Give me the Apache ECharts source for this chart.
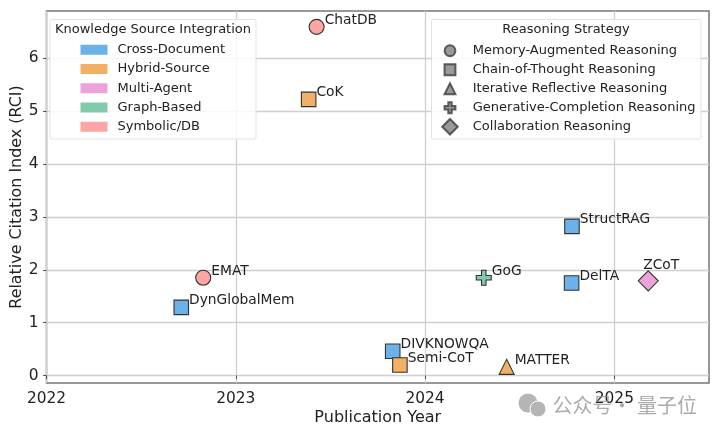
<!DOCTYPE html>
<html>

<head>
  <meta charset="utf-8">
  <title>Publication Year vs RCI</title>
  <script src="https://cdn.jsdelivr.net/npm/echarts@6/dist/echarts.min.js"></script>
  <style>
    html, body { margin: 0; padding: 0; background: #fff; }
    #chart { width: 720px; height: 434px; }
  </style>
</head>

<body>
  <div id="chart"></div>
  <script>
    var methods = ['ChatDB', 'CoK', 'EMAT', 'DynGlobalMem', 'DIVKNOWQA', 'Semi-CoT', 'MATTER', 'GoG', 'DelTA', 'StructRAG', 'ZCoT'];
    var years = [2023.427, 2023.385, 2022.828, 2022.712, 2023.829, 2023.867, 2024.431, 2024.31, 2024.774, 2024.776, 2025.179];
    var rci = [6.59, 5.22, 1.85, 1.29, 0.46, 0.2, 0.165, 1.85, 1.75, 2.82, 1.79];
    var methodSource = ['Symbolic/DB', 'Hybrid-Source', 'Symbolic/DB', 'Cross-Document', 'Cross-Document', 'Hybrid-Source', 'Hybrid-Source', 'Graph-Based', 'Cross-Document', 'Cross-Document', 'Multi-Agent'];
    var methodStrategy = ['Memory-Augmented Reasoning', 'Chain-of-Thought Reasoning', 'Memory-Augmented Reasoning', 'Chain-of-Thought Reasoning', 'Chain-of-Thought Reasoning', 'Chain-of-Thought Reasoning', 'Iterative Reflective Reasoning', 'Generative-Completion Reasoning', 'Chain-of-Thought Reasoning', 'Chain-of-Thought Reasoning', 'Collaboration Reasoning'];

    var sources = ['Cross-Document', 'Hybrid-Source', 'Multi-Agent', 'Graph-Based', 'Symbolic/DB'];
    var sourceColors = ['#6BB1EA', '#F2B066', '#EDA3DA', '#82C9AE', '#FDA5A3'];
    var strategies = ['Memory-Augmented Reasoning', 'Chain-of-Thought Reasoning', 'Iterative Reflective Reasoning', 'Generative-Completion Reasoning', 'Collaboration Reasoning'];
    var plusPath = 'path://M35 0H65V35H100V65H65V100H35V65H0V35H35Z';
    var strategySymbols = ['circle', 'rect', 'triangle', plusPath, 'diamond'];
    var strategySizes = [15, 14.5, 15, 15, 20];
    // 图例图标：带 100x100 的空边框，这样菱形可以比其他形状大
    var frame = 'M0 0L0 0M100 100L100 100';
    var strategyIcons = [
      'path://' + frame + 'M50 15A35 35 0 1 1 50 85A35 35 0 1 1 50 15Z',
      'path://' + frame + 'M15 15H85V85H15Z',
      'path://' + frame + 'M50 15L85 85H15Z',
      'path://' + frame + 'M39 15H61V39H85V61H61V85H39V61H15V39H39Z',
      'path://' + frame + 'M50 0L100 50L50 100L0 50Z'
    ];

    var xTicks = [2022, 2023, 2024, 2025];
    var yTicks = [0, 1, 2, 3, 4, 5, 6];

    var fontName = 'DejaVu Sans';
    var ink = '#222';

    var series = [];
    // 每个来源一个系列，形状由策略决定
    sources.forEach(function (src, s) {
      var pts = [];
      methods.forEach(function (name, i) {
        if (methodSource[i] !== src) return;
        var k = strategies.indexOf(methodStrategy[i]);
        var above = name === 'ZCoT';
        pts.push({
          name: name,
          value: [years[i], rci[i]],
          symbol: strategySymbols[k],
          symbolSize: strategySizes[k],
          label: above
            ? { position: 'top', distance: -2, offset: [13, 0] }
            : { position: 'right', distance: 0, offset: [0, -6.5] }
        });
      });
      series.push({
        name: src,
        type: 'scatter',
        z: 5,
        data: pts,
        itemStyle: { color: sourceColors[s], borderColor: '#333', borderWidth: 1.1, opacity: 1 },
        label: {
          show: true,
          formatter: '{b}',
          color: ink,
          fontFamily: fontName,
          fontSize: 13.8
        }
      });
    });
    // 形状图例用的空系列
    strategies.forEach(function (st) {
      series.push({
        name: st,
        type: 'scatter',
        data: [],
        itemStyle: { color: '#808080', borderColor: '#3a3a3a', borderWidth: 1 }
      });
    });

    var legendText = { color: ink, fontFamily: fontName, fontSize: 13 };

    var option = {
      backgroundColor: '#fff',
      animation: false,
      grid: { left: 46.5, right: 11, top: 11, bottom: 51, outerBoundsMode: 'none', show: true, borderColor: '#777', borderWidth: 1.5, backgroundColor: 'transparent' },
      xAxis: {
        type: 'value',
        min: 2022,
        max: 2025.5,
        name: 'Publication Year',
        nameLocation: 'middle',
        nameGap: 27,
        nameMoveOverlap: false,
        nameTextStyle: { color: ink, fontFamily: fontName, fontSize: 16 },
        axisLine: { show: false },
        axisTick: { show: true, length: 3.5, lineStyle: { color: '#555' }, customValues: xTicks },
        splitLine: { show: true, lineStyle: { color: '#cfcfcf', width: 1.3 } },
        axisLabel: { color: ink, fontFamily: fontName, fontSize: 15.4, margin: 8, customValues: xTicks, formatter: function (v) { return String(v); } }
      },
      yAxis: {
        type: 'value',
        min: -0.14,
        max: 6.89,
        name: 'Relative Citation Index (RCI)',
        nameLocation: 'middle',
        nameGap: 21.5,
        nameMoveOverlap: false,
        nameTextStyle: { color: ink, fontFamily: fontName, fontSize: 15.9 },
        axisLine: { show: false },
        axisTick: { show: true, length: 3.5, lineStyle: { color: '#555' }, customValues: yTicks },
        splitLine: { show: true, lineStyle: { color: '#cfcfcf', width: 1.3 } },
        axisLabel: { color: ink, fontFamily: fontName, fontSize: 15.4, margin: 8, customValues: yTicks }
      },
      legend: [
        {
          left: 80.5,
          top: 42.5,
          orient: 'vertical',
          selectedMode: false,
          itemWidth: 27,
          itemHeight: 10,
          itemGap: 4.75,
          padding: 0,
          z: 6,
          textStyle: Object.assign({ padding: [0, 0, 0, 5], height: 14.5, lineHeight: 14.5 }, legendText),
          itemStyle: { borderWidth: 0 },
          data: sources.map(function (s) { return { name: s, icon: 'rect' }; })
        },
        {
          left: 441.25,
          top: 42,
          orient: 'vertical',
          selectedMode: false,
          itemWidth: 15.5,
          itemHeight: 15.5,
          itemGap: 1.5,
          padding: 0,
          z: 6,
          textStyle: Object.assign({ padding: [0, 0, 0, 10], height: 14.5, lineHeight: 14.5 }, legendText),
          data: strategies.map(function (s, i) { return { name: s, icon: strategyIcons[i] }; })
        }
      ],
      graphic: [
        { type: 'rect', z: 3, shape: { x: 50, y: 19.5, width: 206, height: 119.5, r: 2 }, style: { fill: 'rgba(255,255,255,0.82)', stroke: '#e2e2e2', lineWidth: 1 } },
        { type: 'rect', z: 3, shape: { x: 431.5, y: 19.5, width: 269.5, height: 119.5, r: 2 }, style: { fill: 'rgba(255,255,255,0.82)', stroke: '#e2e2e2', lineWidth: 1 } },
        { type: 'text', z: 7, x: 153, y: 30, style: { text: 'Knowledge Source Integration', fill: ink, font: '13px "DejaVu Sans"', textAlign: 'center', textVerticalAlign: 'middle' } },
        { type: 'text', z: 7, x: 566, y: 30, style: { text: 'Reasoning Strategy', fill: ink, font: '13px "DejaVu Sans"', textAlign: 'center', textVerticalAlign: 'middle' } },
        // 水印
        { type: 'circle', z: 8, shape: { cx: 528, cy: 403, r: 9.5 }, style: { fill: '#b5b5b5' } },
        { type: 'circle', z: 8, shape: { cx: 538, cy: 409, r: 8 }, style: { fill: '#b5b5b5', stroke: '#fff', lineWidth: 1 } },
        { type: 'text', z: 8, x: 552.5, y: 405, style: { text: '公众号', fill: 'rgba(150,150,150,0.8)', font: '20px "Noto Sans CJK SC"', textVerticalAlign: 'middle' } },
        { type: 'text', z: 8, x: 622, y: 405, style: { text: '·', fill: 'rgba(150,150,150,0.8)', font: '20px "Noto Sans CJK SC"', textAlign: 'center', textVerticalAlign: 'middle' } },
        { type: 'text', z: 8, x: 637, y: 405, style: { text: '量子位', fill: 'rgba(150,150,150,0.8)', font: '20px "Noto Sans CJK SC"', textVerticalAlign: 'middle' } }
      ],
      series: series
    };

    var chart = echarts.init(document.getElementById('chart'));
    chart.setOption(option);
  </script>
</body>

</html>
